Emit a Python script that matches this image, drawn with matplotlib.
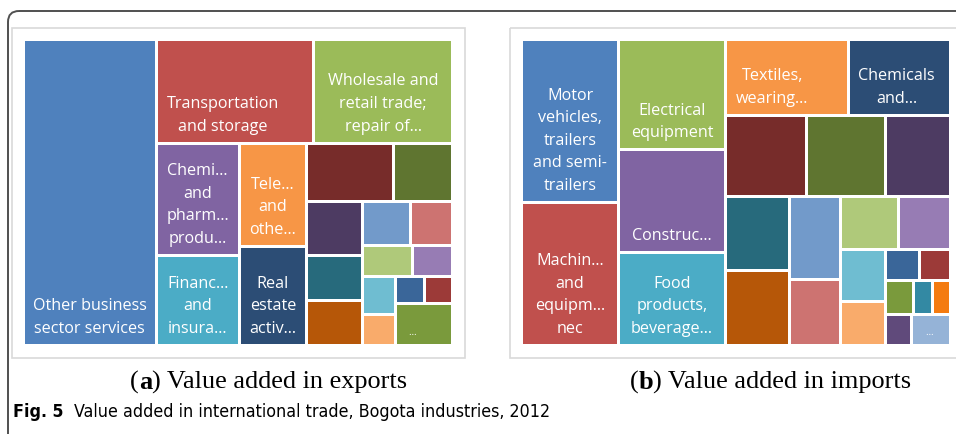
import matplotlib
matplotlib.use("Agg")
import matplotlib.pyplot as plt
from matplotlib.patches import Rectangle, FancyBboxPatch

# ---------------- data ----------------
palette = ["#4F81BD", "#C0504D", "#9BBB59", "#8064A2", "#4BACC6", "#F79646",
           "#2C4D75", "#772C2A", "#5F7530", "#4D3B62", "#276A7C", "#B65708",
           "#729ACA", "#CD7371", "#AFC97A", "#977CB4", "#6FBDD1", "#F9AB6B",
           "#3A6699", "#9C3A38", "#7A9A3C", "#3389A3", "#F47B10", "#604A7B",
           "#95B3D7"]

exp_labels = ["Other business\nsector services", "Transportation\nand storage",
              "Wholesale and\nretail trade;\nrepair of…", "Chemi…\nand\npharm…\nprodu…",
              "Financ…\nand\ninsura…", "Tele…\nand\nothe…", "Real\nestate\nactiv…",
              "", "", "", "", "", "", "", "", "", "", "", "", "", "…"]
exp_values = [30.90, 12.45, 10.95, 7.11, 5.72, 5.28, 5.07, 3.90, 2.62, 2.31, 1.89,
              1.93, 1.61, 1.38, 1.19, 0.95, 0.93, 0.78, 0.62, 0.58, 1.82]
exp_strips = [1, 2, 2, 2, 2, 3, 2, 2, 2, 2, 1]
exp_dirs = ["col", "row", "col", "col", "row", "col", "row", "row", "col", "row", "row"]

imp_labels = ["Motor\nvehicles,\ntrailers\nand semi-\ntrailers", "Machin…\nand\nequipm…\nnec",
              "Electrical\nequipment", "Construc…", "Food\nproducts,\nbeverage…",
              "Textiles,\nwearing…", "Chemicals\nand…",
              "", "", "", "", "", "", "", "", "", "", "", "", "", "", "", "", "", "…"]
imp_values = [12.05, 10.57, 8.98, 8.32, 7.59, 7.16, 5.89, 4.99, 4.87, 4.00, 3.66,
              3.67, 3.16, 2.54, 2.37, 2.08, 1.81, 1.52, 0.81, 0.74, 0.73, 0.51,
              0.46, 0.62, 0.90]
imp_strips = [2, 3, 2, 3, 2, 2, 2, 2, 2, 3, 1, 1]
imp_dirs = ["col", "col", "row", "row", "col", "col", "row", "col", "row", "row", "col", "col"]

captions = [("a", "Value added in exports"), ("b", "Value added in imports")]
fig_title_bold = "Fig. 5"
fig_title = "Value added in international trade, Bogota industries, 2012"

# per-label horizontal nudges (px)
label_dx = {"Transportation\nand storage": -12, "Textiles,\nwearing…": -15,
            "Chemicals\nand…": -3}

# ---------------- layout helpers ----------------
def strip_layout(values, strips, dirs, W, H):
    total = float(sum(values))
    scale = W * H / total
    x0, y0, w, h = 0.0, 0.0, float(W), float(H)
    rects = []
    i = 0
    for n, d in zip(strips, dirs):
        vals = [v * scale for v in values[i:i + n]]
        s = sum(vals)
        if d == "col":
            sw = s / h
            yy = y0
            for v in vals:
                hh = v / sw
                rects.append((x0, yy, sw, hh))
                yy += hh
            x0 += sw
            w -= sw
        else:
            sh = s / w
            xx = x0
            for v in vals:
                ww = v / sh
                rects.append((xx, y0, ww, sh))
                xx += ww
            y0 += sh
            h -= sh
        i += n
    return rects


FW, FH = 956, 434
fig = plt.figure(figsize=(FW / 100, FH / 100), dpi=100)
bg = fig.add_axes([0, 0, 1, 1])
bg.set_xlim(0, FW)
bg.set_ylim(FH, 0)
bg.axis("off")

# outer rounded frame
bg.add_patch(FancyBboxPatch((8, 11), 1100, 600, boxstyle="round,pad=0,rounding_size=11",
                            fill=False, ec="#505050", lw=1.4, clip_on=False))
# panel boxes
bg.add_patch(Rectangle((12, 28), 453, 330, fill=False, ec="#D9D9D9", lw=1.2))
bg.add_patch(Rectangle((510.5, 28), 460, 330, fill=False, ec="#D9D9D9", lw=1.2))

LABEL_FONT = "Open Sans"
GAP = 3.0


def draw_treemap(x_px, y_px, w_px, h_px, values, labels, strips, dirs):
    ax = fig.add_axes([x_px / FW, 1 - (y_px + h_px) / FH, w_px / FW, h_px / FH])
    ax.set_xlim(0, w_px)
    ax.set_ylim(h_px, 0)
    ax.axis("off")
    ax.patch.set_alpha(0)
    rects = strip_layout(values, strips, dirs, w_px, h_px)
    for k, (rx, ry, rw, rh) in enumerate(rects):
        ax.add_patch(Rectangle((rx + GAP / 2, ry + GAP / 2), rw - GAP, rh - GAP,
                               facecolor=palette[k], edgecolor="none"))
        lab = labels[k]
        if not lab:
            continue
        if lab == "…":
            ax.text(rx + GAP / 2 + 12, ry + rh - GAP / 2 - 9, lab, color="white",
                    fontsize=7, family=LABEL_FONT, ha="left", va="baseline")
            continue
        cx = rx + rw / 2 + label_dx.get(lab, 0)
        ax.text(cx, ry + rh - GAP / 2 - 11, lab, color="white", fontsize=11.6,
                family=LABEL_FONT, ha="center", va="baseline", linespacing=1.55,
                multialignment="center")
    return ax


draw_treemap(23.5, 39.5, 429, 306, exp_values, exp_labels, exp_strips, exp_dirs)
draw_treemap(521.5, 39.5, 429, 306, imp_values, imp_labels, imp_strips, imp_dirs)

# captions with bold letters
renderer = fig.canvas.get_renderer()


def chain_text(x, y, pieces, family, size, stretch="normal"):
    for txt, weight in pieces:
        t = bg.text(x, y, txt, family=family, fontsize=size, fontweight=weight,
                    fontstretch=stretch, ha="left", va="baseline", color="black")
        bb = t.get_window_extent(renderer=renderer)
        x += bb.width


chain_text(130, 389, [("(", "normal"), (captions[0][0], "bold"), (") " + captions[0][1], "normal")],
           "Liberation Serif", 18.9)
chain_text(630, 389, [("(", "normal"), (captions[1][0], "bold"), (") " + captions[1][1], "normal")],
           "Liberation Serif", 18.9)

chain_text(13, 417, [(fig_title_bold + "  ", "bold"), (fig_title, "normal")],
           "DejaVu Sans", 12.8, stretch="condensed")

fig.savefig("out.png", dpi=100)
